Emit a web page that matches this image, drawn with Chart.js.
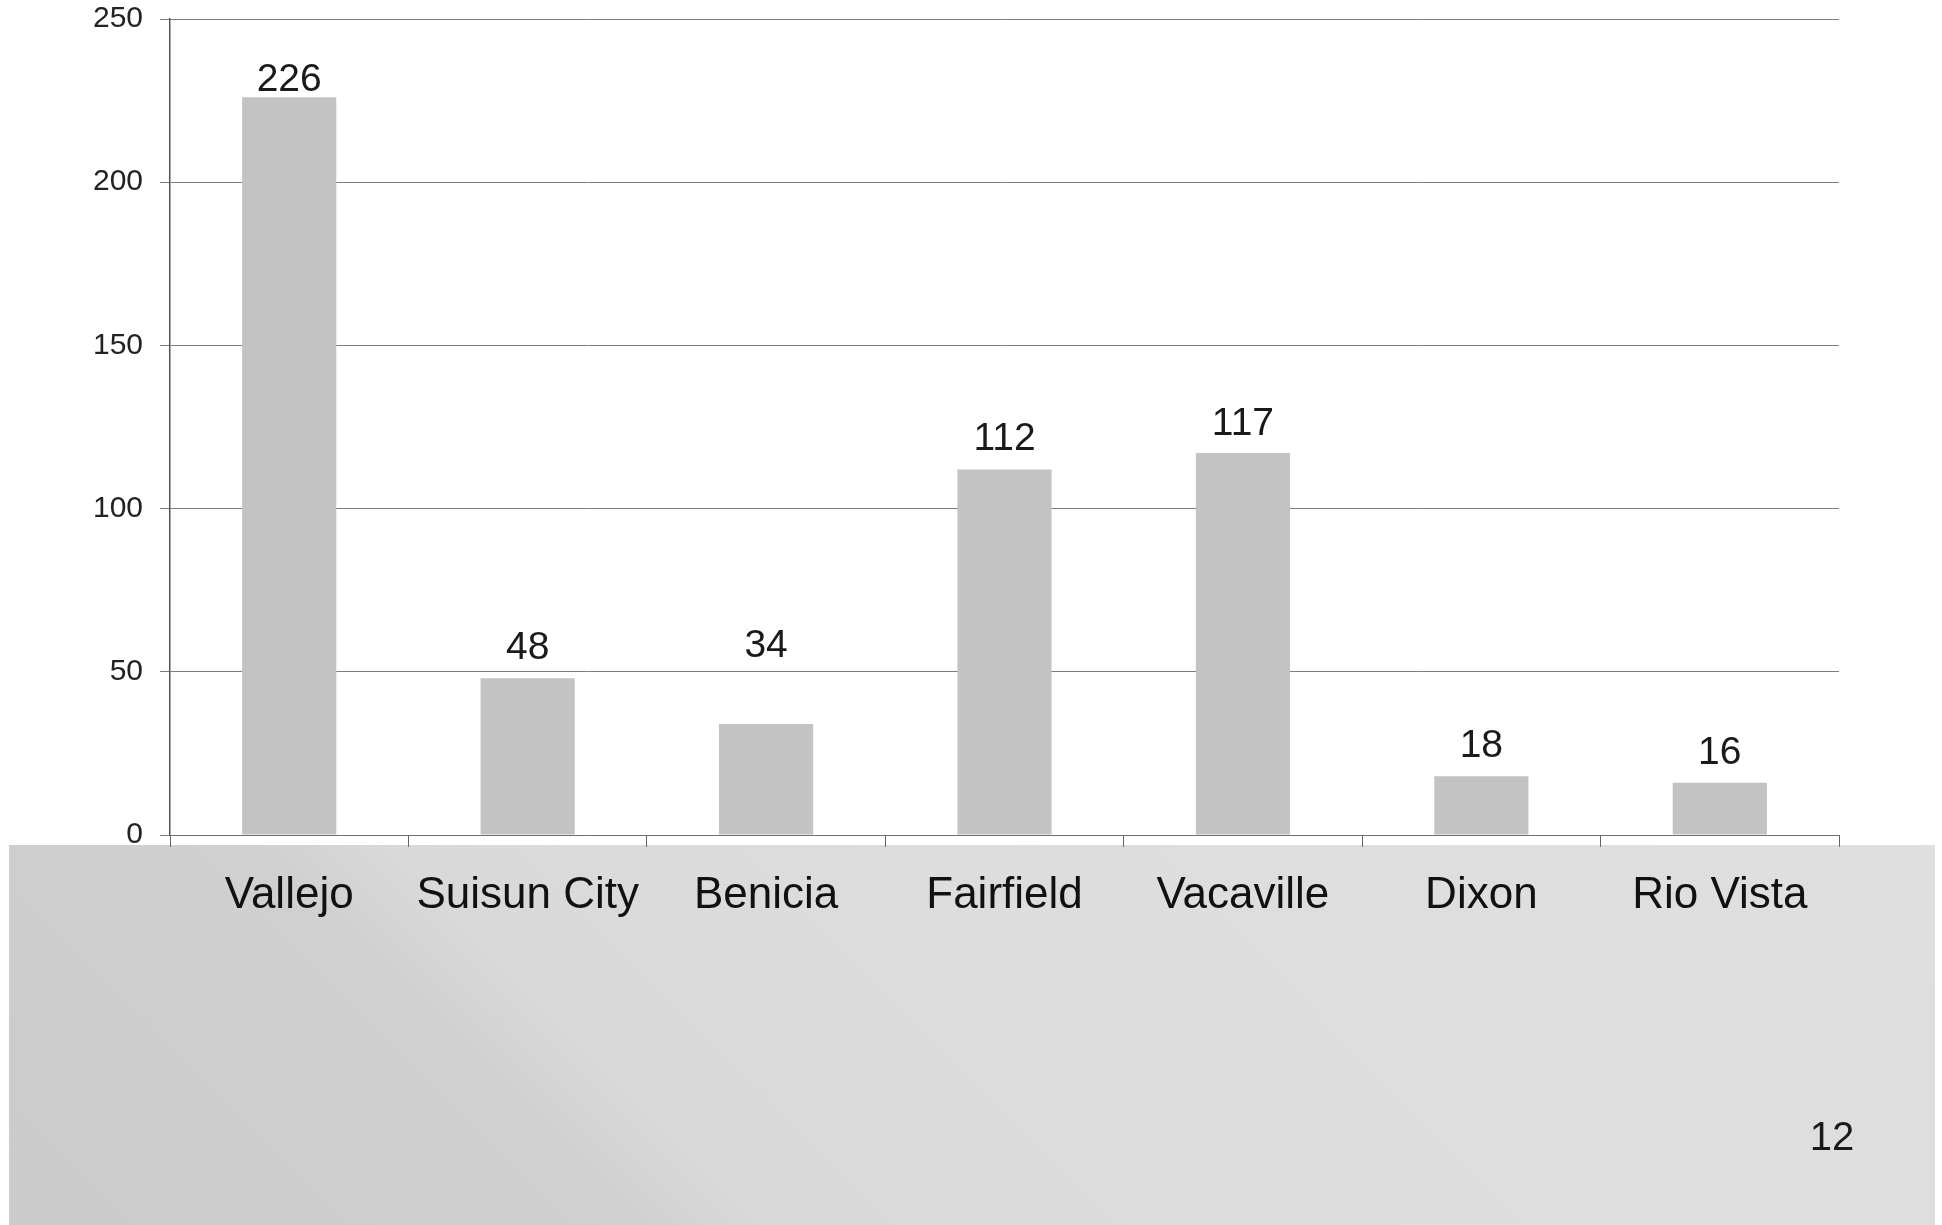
<!DOCTYPE html>
<html>
<head>
<meta charset="utf-8">
<script src="https://cdn.jsdelivr.net/npm/chart.js@4/dist/chart.umd.min.js"></script>
<style>
  html, body { margin: 0; padding: 0; background: #ffffff; }
  #wrap { position: relative; width: 1942px; height: 1225px; overflow: hidden; }
  #band {
    position: absolute; left: 9px; top: 845px; width: 1926px; height: 380px;
    background: linear-gradient(45deg, #cbcbcb 0%, #d0d0d0 27%, #d9d9d9 33%, #dddddd 55%, #dfdfdf 100%);
  }
  #c { position: absolute; left: 0; top: 0; }
  #page {
    position: absolute; left: 1792px; top: 1116px; width: 80px; text-align: center;
    font: 40px "Liberation Sans", Arial, sans-serif; line-height: 40px; color: #1a1a1a;
  }
</style>
</head>
<body>
<div id="wrap">
  <div id="band"></div>
  <canvas id="c" width="1942" height="1225"></canvas>
  <div id="page">12</div>
</div>
<script>
const categories = ["Vallejo", "Suisun City", "Benicia", "Fairfield", "Vacaville", "Dixon", "Rio Vista"];
const values = [226, 48, 34, 112, 117, 18, 16];
const yTickValues = [0, 50, 100, 150, 200, 250];

const labelGap = [6, 19, 67, 19, 18, 19, 19];

const valueLabels = {
  id: 'valueLabels',
  afterDatasetsDraw(chart) {
    const ctx = chart.ctx;
    const meta = chart.getDatasetMeta(0);
    ctx.save();
    ctx.font = '39px "Liberation Sans", Arial, sans-serif';
    ctx.fillStyle = '#1a1a1a';
    ctx.textAlign = 'center';
    ctx.textBaseline = 'alphabetic';
    meta.data.forEach((bar, i) => {
      ctx.fillText(String(values[i]), bar.x, bar.y - labelGap[i]);
    });
    ctx.restore();
  }
};

new Chart(document.getElementById('c'), {
  type: 'bar',
  data: {
    labels: categories,
    datasets: [{
      data: values,
      backgroundColor: '#c3c3c3',
      borderWidth: 0,
      categoryPercentage: 1.0,
      barPercentage: 0.395
    }]
  },
  options: {
    responsive: false,
    animation: false,
    events: [],
    layout: { padding: { top: 19, right: 103, left: 0, bottom: 0 } },
    plugins: {
      legend: { display: false },
      tooltip: { enabled: false },
      title: { display: false }
    },
    scales: {
      x: {
        offset: true,
        grid: {
          offset: true,
          drawOnChartArea: false,
          drawTicks: true,
          tickLength: 12,
          color: '#666666',
          lineWidth: 1
        },
        border: { display: true, color: '#707070', width: 1 },
        ticks: {
          color: '#111111',
          padding: 22,
          font: { family: '"Liberation Sans", Arial, sans-serif', size: 44 },
          maxRotation: 0,
          autoSkip: false
        },
        afterFit(scale) { scale.height = 390; }
      },
      y: {
        min: 0,
        max: 250,
        afterBuildTicks(scale) { scale.ticks = yTickValues.map(v => ({ value: v })); },
        grid: {
          color: '#7e7e7e',
          lineWidth: 1,
          drawTicks: true,
          tickLength: 10
        },
        border: { display: true, color: '#555555', width: 1.5 },
        ticks: {
          color: '#222222',
          padding: 17,
          font: { family: '"Liberation Sans", Arial, sans-serif', size: 30 }
        },
        afterFit(scale) {
          scale.width = 170;
          scale.paddingTop = 0;
          scale.paddingBottom = 0;
        }
      }
    }
  },
  plugins: [valueLabels]
});
</script>
</body>
</html>
